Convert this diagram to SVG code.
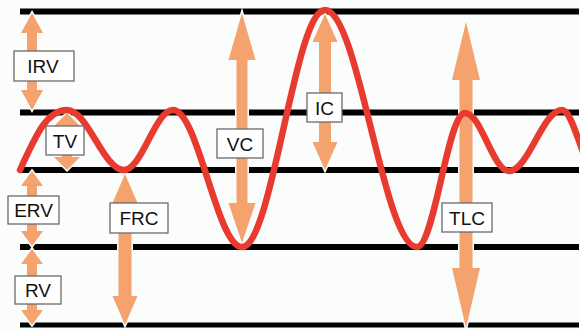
<svg xmlns="http://www.w3.org/2000/svg" width="580" height="331" viewBox="0 0 580 331">
<style>
.lvl{stroke:#000;stroke-width:6;fill:none}
.arr{fill:#f4a26e;stroke:#fbfcfc;stroke-width:3;stroke-linejoin:miter;paint-order:stroke}
.curve{fill:none;stroke:#e93a30;stroke-width:6.5;stroke-linecap:round;stroke-linejoin:round}
.box{fill:#fff;stroke:#6a6a6a;stroke-width:1.3}
.lbl{font-family:"Liberation Sans",Arial,sans-serif;font-size:19px;fill:#111;text-anchor:middle}
</style>
<rect x="0" y="0" width="580" height="331" fill="#fbfcfc"/>
<g id="levels">
<line class="lvl" x1="20" y1="11.5" x2="579" y2="11.5"/>
<line class="lvl" x1="20" y1="112.5" x2="579" y2="112.5"/>
<line class="lvl" x1="20" y1="170" x2="579" y2="170"/>
<line class="lvl" x1="20" y1="247" x2="579" y2="247"/>
<line class="lvl" x1="20" y1="325" x2="579" y2="325" style="stroke-width:5"/>
</g>
<g id="connectors">
<polygon id="arr-irv" class="arr" points="32,13 43,33 37,33 37,90 43,90 32,110 21,90 27,90 27,33 21,33"/>
<polygon id="arr-tv" class="arr" points="67,113 80,126 72,126 72,157 80,157 67,170 54,157 62,157 62,126 54,126"/>
<polygon id="arr-erv" class="arr" points="32,171 43,186 37,186 37,231 43,231 32,246 21,231 27,231 27,186 21,186"/>
<polygon id="arr-rv" class="arr" points="32,249 43,264 37,264 37,310 43,310 32,325 21,310 27,310 27,264 21,264"/>
<polygon id="arr-frc" class="arr" points="125,174 137.5,203 131.5,203 131.5,296 137.5,296 125,325 112.5,296 118.5,296 118.5,203 112.5,203"/>
<polygon id="arr-vc" class="arr" points="242,13 255.5,60 247.5,60 247.5,203 255.5,203 242,243 228.5,203 236.5,203 236.5,60 228.5,60"/>
<polygon id="arr-ic" class="arr" points="325,14 337.5,42 331,42 331,142 337.5,142 325,170 312.5,142 319,142 319,42 312.5,42"/>
<polygon id="arr-tlc" class="arr" points="466,22 480,80 472.5,80 472.5,268 480,268 466,328 452,268 459.5,268 459.5,80 452,80"/>
</g>
<g id="volume-curve">
<path class="curve" d="M20,170 C36,135 47,110 67,110 C87.7,110 103.3,170 124,170 C141.8,170 155.2,110 173,110 C198.1,110 216.9,247 242,247 C272.2,247 294.8,10 325,10 C358.5,10 383.5,247 417,247 C434.5,247 447.5,113 465,113 C481,113 493,171 509,171 C528.3,171 542.7,110 562,110 C574,110 584,172 596,172"/>
</g>
<g id="node-irv"><rect class="box" x="14" y="51" width="60" height="30"/><text class="lbl" x="43" y="73">IRV</text></g>
<g id="node-tv"><rect class="box" x="46" y="126" width="38" height="29"/><text class="lbl" x="65" y="147.5">TV</text></g>
<g id="node-erv"><rect class="box" x="8" y="196" width="51" height="28"/><text class="lbl" x="33.5" y="217">ERV</text></g>
<g id="node-rv"><rect class="box" x="15" y="276" width="46" height="28"/><text class="lbl" x="38" y="297">RV</text></g>
<g id="node-frc"><rect class="box" x="110" y="203" width="58" height="30"/><text class="lbl" x="139" y="225">FRC</text></g>
<g id="node-vc"><rect class="box" x="217" y="129" width="46" height="29"/><text class="lbl" x="240" y="150.5">VC</text></g>
<g id="node-ic"><rect class="box" x="307" y="93" width="35" height="29"/><text class="lbl" x="324.5" y="114.5">IC</text></g>
<g id="node-tlc"><rect class="box" x="442" y="203" width="50" height="29"/><text class="lbl" x="467" y="224.5">TLC</text></g>
</svg>
